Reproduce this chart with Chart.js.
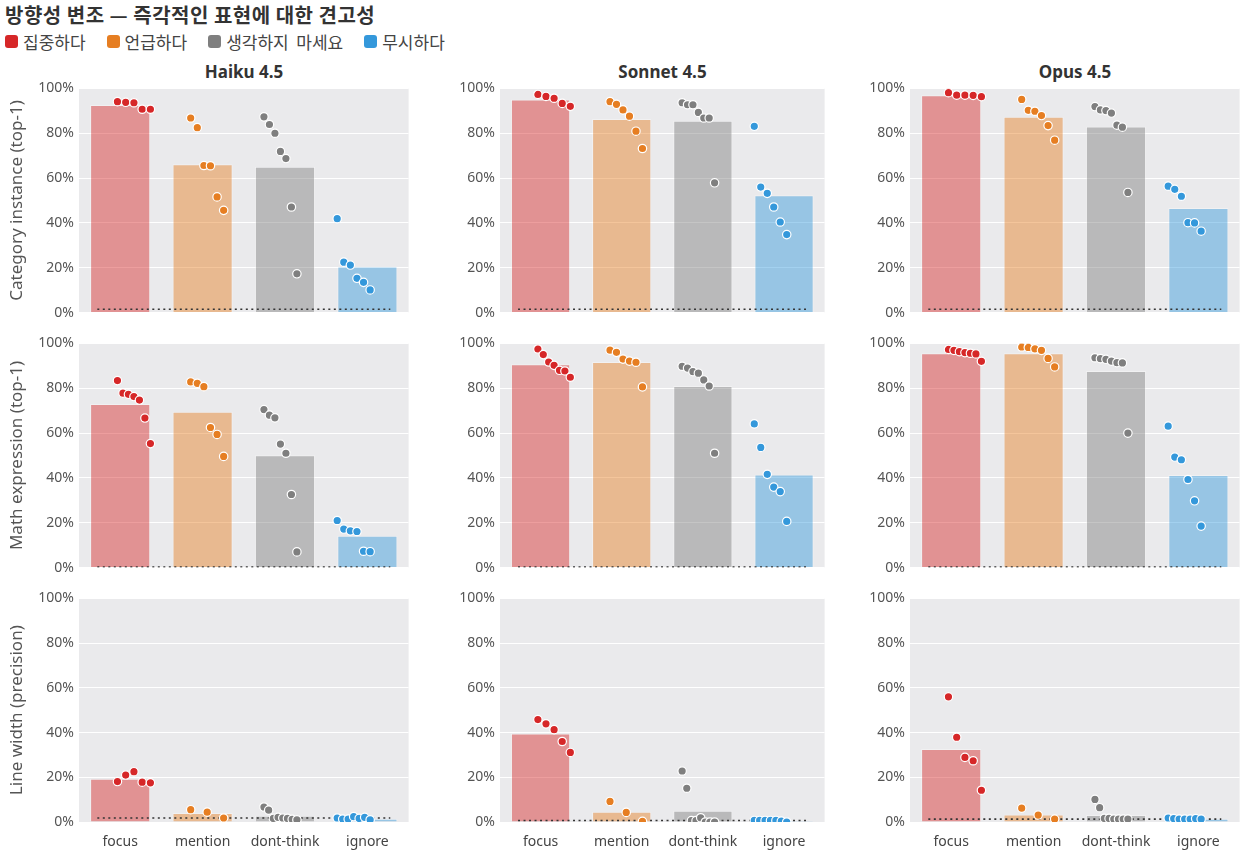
<!DOCTYPE html>
<html>
<head>
<meta charset="utf-8">
<script src="https://cdn.jsdelivr.net/npm/chart.js@4/dist/chart.umd.min.js"></script>
<style>
  body { margin: 0; background: #fff; font-family: "Noto Sans", "Noto Sans CJK KR", sans-serif; }
  #page { position: relative; width: 1254px; height: 858px; overflow: hidden; }
  #title { position: absolute; left: 5px; top: 0px; font-size: 20px; font-weight: bold; color: #333;
           letter-spacing: 0.5px; font-family: "Noto Sans CJK KR", "Noto Sans", sans-serif; }
  #legend { position: absolute; left: 5px; top: 29px; display: flex; font-size: 17px; color: #444;
            font-family: "Noto Sans CJK KR", "Noto Sans", sans-serif; }
  .item { display: flex; align-items: center; margin-right: 21px; }
  .sw { width: 13px; height: 13px; border-radius: 3px; margin-right: 5px; }
  .ptitle { position: absolute; top: 60px; font-size: 17px; font-weight: bold; color: #333; text-align: center; }
  .box { position: absolute; }
</style>
</head>
<body>
<div id="page">
  <div id="title">방향성 변조 — 즉각적인 표현에 대한 견고성</div>
  <div id="legend"></div>
</div>
<script>
const models = ['Haiku 4.5', 'Sonnet 4.5', 'Opus 4.5'];
const metrics = ['Category instance (top-1)', 'Math expression (top-1)', 'Line width (precision)'];
const categories = ['focus', 'mention', 'dont-think', 'ignore'];
const legendLabels = ['집중하다', '언급하다', '생각하지&nbsp;&nbsp;마세요', '무시하다'];
const colors = ['#d62728', '#e67e22', '#7f7f7f', '#3498db'];
const barColors = ['rgba(214,39,40,0.45)', 'rgba(230,126,34,0.45)', 'rgba(127,127,127,0.45)', 'rgba(52,152,219,0.45)'];
const yTicks = [0, 20, 40, 60, 80, 100];

// bar heights (mean), per model: [focus, mention, dont-think, ignore]
const categoryBars = [[92.6, 66.2, 65.0, 20.6], [95.0, 86.4, 85.6, 52.3], [97.0, 87.3, 83.0, 46.7]];
const mathBars = [[73.0, 69.5, 50.1, 14.2], [90.7, 91.7, 81.0, 41.5], [95.6, 95.6, 87.7, 41.3]];
const lineBars = [[19.3, 4.0, 2.8, 1.5], [39.6, 4.6, 5.0, 0.5], [32.7, 3.4, 3.1, 1.4]];

// individual points, per model, per category
const categoryPoints = [
  [[94.1, 93.8, 93.6, 90.7, 90.7], [86.8, 82.5, 65.6, 65.5, 51.6, 45.6], [87.3, 83.9, 80.0, 71.9, 68.7, 47.1, 17.3], [41.9, 22.5, 21.2, 15.3, 13.5, 10.1]],
  [[97.3, 96.4, 95.6, 93.3, 92.0], [94.1, 92.9, 90.4, 87.6, 80.9, 73.2], [93.6, 92.7, 92.7, 89.3, 86.8, 86.8, 57.9], [83.1, 56.0, 53.2, 47.1, 40.4, 34.8]],
  [[98.1, 97.0, 97.0, 96.9, 96.3], [95.1, 90.2, 89.8, 87.9, 83.4, 76.9], [91.9, 90.4, 90.1, 89.0, 83.6, 82.7, 53.6], [56.4, 55.0, 51.9, 40.1, 40.0, 36.3]]
];
const mathPoints = [
  [[83.4, 77.8, 77.3, 76.3, 74.7, 66.7, 55.3], [82.8, 82.2, 80.7, 62.5, 59.4, 49.6], [70.5, 68.0, 66.8, 55.1, 51.0, 32.6, 7.0], [21.0, 17.2, 16.4, 16.1, 7.3, 7.1]],
  [[97.5, 95.0, 91.7, 90.2, 88.0, 87.7, 84.9], [97.0, 96.0, 93.0, 92.1, 91.6, 80.6], [89.8, 89.0, 87.4, 86.7, 83.7, 81.0, 51.0], [64.1, 53.6, 41.6, 35.9, 33.9, 20.6]],
  [[97.3, 96.9, 96.3, 95.9, 95.6, 95.3, 92.0], [98.4, 98.2, 97.6, 96.9, 93.3, 89.5], [93.6, 93.2, 92.9, 92.1, 91.4, 91.3, 60.0], [63.1, 49.3, 48.1, 39.3, 29.8, 18.5]]
];
const linePoints = [
  [[18.1, 21.0, 22.5, 17.8, 17.5], [5.5, 4.4, 1.8], [6.7, 5.3, 1.6, 2.1, 1.8, 1.6, 1.2, 1.0], [1.8, 1.3, 1.3, 2.4, 1.6, 2.1, 1.0]],
  [[45.8, 43.9, 41.3, 36.0, 31.1], [9.2, 4.3, 0.3], [22.8, 15.1, 0.6, 0.6, 1.9, 0.0, 0.0, 0.0], [0.7, 0.7, 0.7, 0.7, 0.7, 0.4, 0.0]],
  [[56.0, 37.9, 28.9, 27.4, 14.2], [6.2, 3.1, 1.3], [10.1, 6.4, 1.6, 1.6, 1.3, 1.3, 1.3, 1.3], [1.8, 1.5, 1.3, 1.3, 1.3, 1.5, 1.3]]
];
// dotted reference line per row, per model
const chanceLevels = [[1.5, 1.5, 1.5], [0.3, 0.3, 0.3], [1.8, 0.7, 1.3]];

const rowBars = [categoryBars, mathBars, lineBars];
const rowPoints = [categoryPoints, mathPoints, linePoints];

// layout
const colLeft = [0, 420, 830];
const colAxisW = [79, 80, 80];
const colPlotRight = [409, 825, 1240];
const rowTop = [75, 330, 585];
const rowHeight = [251, 251, 273];

const page = document.getElementById('page');
const legend = document.getElementById('legend');
legendLabels.forEach((l, i) => {
  const it = document.createElement('div');
  it.className = 'item';
  it.innerHTML = '<span class="sw" style="background:' + colors[i] + '"></span>' + l;
  legend.appendChild(it);
});

models.forEach((m, c) => {
  const t = document.createElement('div');
  t.className = 'ptitle';
  const pl = colLeft[c] + colAxisW[c];
  t.style.left = pl + 'px';
  t.style.width = (colPlotRight[c] - pl) + 'px';
  t.textContent = m;
  page.appendChild(t);
});

const bgPlugin = {
  id: 'plotBg',
  beforeDraw(chart) {
    const a = chart.chartArea, ctx = chart.ctx;
    ctx.save();
    ctx.fillStyle = '#eaeaec';
    ctx.fillRect(a.left, a.top, a.right - a.left, a.bottom - a.top);
    ctx.restore();
  }
};

function jitter(n, i) {
  if (n === 1) return 0;
  return -0.225 + i * 0.45 / (n - 1);
}

for (let r = 0; r < 3; r++) {
  for (let c = 0; c < 3; c++) {
    const box = document.createElement('div');
    box.className = 'box';
    const w = colPlotRight[c] + 5 - colLeft[c];
    box.style.left = colLeft[c] + 'px';
    box.style.top = rowTop[r] + 'px';
    box.style.width = w + 'px';
    box.style.height = rowHeight[r] + 'px';
    const cv = document.createElement('canvas');
    box.appendChild(cv);
    page.appendChild(box);

    const datasets = [{
      type: 'bar',
      data: rowBars[r][c],
      xAxisID: 'x',
      grouped: false,
      backgroundColor: barColors,
      borderColor: 'rgba(255,255,255,0.35)',
      borderWidth: 1,
      barPercentage: 0.73,
      categoryPercentage: 1,
      order: 3
    }, {
      type: 'line',
      data: [{ x: -0.5, y: chanceLevels[r][c] }, { x: 3.5, y: chanceLevels[r][c] }],
      xAxisID: 'xd',
      borderColor: '#333',
      borderWidth: 1.6,
      borderDash: [2, 3.5],
      pointRadius: 0,
      order: 2
    }];
    rowPoints[r][c].forEach((pts, k) => {
      datasets.push({
        type: 'scatter',
        data: pts.map((v, i) => ({ x: k + jitter(pts.length, i), y: v })),
        xAxisID: 'xd',
        backgroundColor: colors[k],
        borderColor: '#fff',
        borderWidth: 1.2,
        pointRadius: 4.2,
        order: 1
      });
    });

    const xAxis = {
      type: 'category',
      offset: true,
      display: r === 2,
      grid: { display: false },
      border: { display: false },
      ticks: { color: '#444', font: { size: 14, family: 'Noto Sans' }, padding: 4 }
    };
    if (r === 2) xAxis.afterFit = s => { s.height = 30; };

    new Chart(cv, {
      type: 'bar',
      data: { labels: categories, datasets: datasets },
      options: {
        responsive: true,
        maintainAspectRatio: false,
        animation: false,
        layout: { padding: { top: 10, right: 5, left: 0, bottom: r === 2 ? 6 : 10 } },
        plugins: { legend: { display: false }, tooltip: { enabled: false }, title: { display: false } },
        scales: {
          x: xAxis,
          xd: { type: 'linear', min: -0.5, max: 3.5, display: false },
          y: {
            min: 0, max: 100,
            afterBuildTicks(s) { s.ticks = yTicks.map(v => ({ value: v })); },
            afterFit(s) { s.width = colAxisW[c]; },
            grid: { color: '#fff', lineWidth: 1, drawTicks: false },
            border: { display: false },
            ticks: { color: '#555', font: { size: 14, family: 'Noto Sans' }, padding: 5, callback: v => v + '%' },
            title: {
              display: c === 0,
              text: metrics[r],
              color: '#555',
              font: { size: 17, family: 'Noto Sans' },
              padding: { top: 7, bottom: 0 }
            }
          }
        }
      },
      plugins: [bgPlugin]
    });
  }
}
</script>
</body>
</html>
